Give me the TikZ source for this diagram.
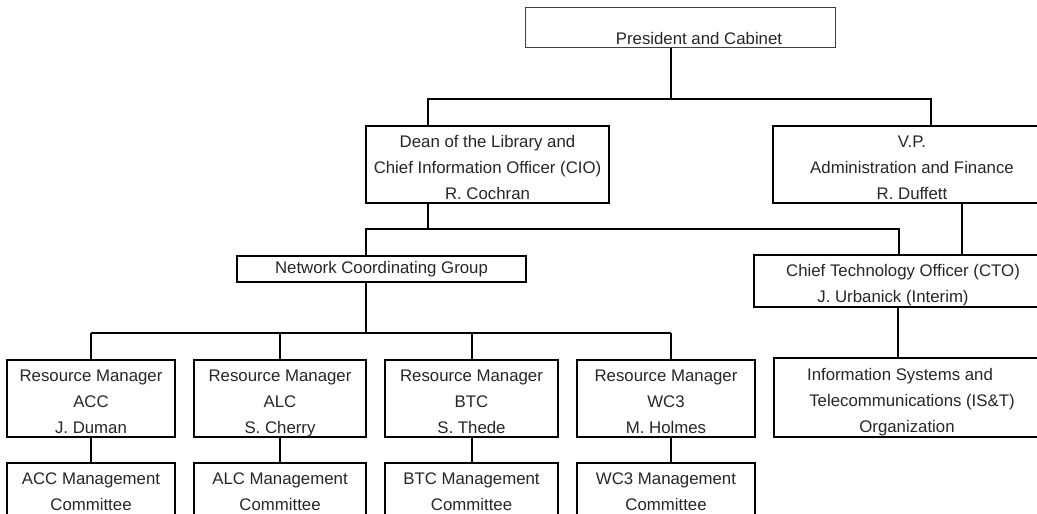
\documentclass[tikz,border=0pt]{standalone}
\usepackage{fontspec}
\setmainfont{Liberation Sans}
\newcommand{\toprow}{\rule{0pt}{21pt}}
\tikzset{
	orgbox/.style={draw, rectangle, line width=1.3pt, inner sep=0pt, align=center, text=black!85, font=\fontsize{16.8}{26}\selectfont},
	rows/.style={execute at end node={\rule[-4pt]{0pt}{4pt}}},
	orgtext/.style={inner sep=0pt, text=black!85, font=\fontsize{16.8}{26}\selectfont},
	link/.style={line width=1.3pt}
}

\begin{document}
\begin{tikzpicture}[x=1pt,y=-1pt]
			\useasboundingbox (0,0) rectangle (1037,514);
			\clip (0,0) rectangle (1037,514);
			\node[orgbox, line width=1pt, draw=black!75, minimum width=310, minimum height=40] (pres) at (680,27) {};
			\node[orgtext] (prestext) at (699,38) {President and Cabinet};
			\node[orgbox, rows, minimum width=243, minimum height=77] (dean) at (487.5,164.5) {\toprow Dean of the Library and\\Chief Information Officer (CIO)\\R. Cochran};
			\node[orgbox, rows, minimum width=278, minimum height=77] (vp) at (912,164.5) {\toprow V.P.\\Administration and Finance\\R. Duffett};
			\node[orgbox, minimum width=289, minimum height=26] (ncg) at (381.5,269) {Network Coordinating Group};
			\node[orgbox, rows, minimum width=298, minimum height=52] (cto) at (903,281) {\toprow Chief Technology Officer (CTO)\\J. Urbanick (Interim)\hspace*{20pt}};
			\node[orgbox, rows, minimum width=276, minimum height=79] (ist) at (912,397.5) {\toprow Information Systems and\hspace*{24pt}\\Telecommunications (IS\&T)\\Organization\hspace*{10pt}};
			\coordinate (t0) at (671,99);
			\coordinate (t1) at (428,99);
			\coordinate (t2) at (931,99);
			\coordinate (d1) at (428,229);
			\coordinate (d2) at (366,229);
			\coordinate (d3) at (899,229);
			\coordinate (v1) at (962,229);
			\coordinate (c1) at (898,330);
			\coordinate (n1) at (366,333);
			\draw[link] (t0 |- pres.south) -- (t0);
			\draw[link] (t1 |- dean.north) -- (t1) -- (t2) -- (t2 |- vp.north);
			\draw[link] (d1 |- dean.south) -- (d1);
			\draw[link] (d2 |- ncg.north) -- (d2) -- (d3) -- (d3 |- cto.north);
			\draw[link] (v1 |- vp.south) -- (v1 |- cto.north);
			\draw[link] (c1 |- cto.south) -- (c1 |- ist.north);
			\draw[link] (n1 |- ncg.south) -- (n1);
			\foreach \unit/\xl/\xr/\xc/\who in {ACC/7/175/91/J. Duman, ALC/194/366/280/S. Cherry, BTC/385/558/472/S. Thede, WC3/577/755/671/M. Holmes}
			{
				\pgfmathsetmacro{\boxwd}{\xr-\xl}
				\pgfmathsetmacro{\boxmid}{(\xr+\xl)/2}
				\node[orgbox, rows, minimum width=\boxwd, minimum height=77] (rm\unit) at (\boxmid,398.5) {\toprow Resource Manager\\\unit\\\who};
				\node[orgbox, rows, minimum width=\boxwd, minimum height=52] (mc\unit) at (\boxmid,489) {\toprow\unit{} Management\\Committee};
				\coordinate (b\unit) at (\xc,333);
				\draw[link] (b\unit) -- (b\unit |- rm\unit.north);
				\draw[link] (b\unit |- rm\unit.south) -- (b\unit |- mc\unit.north);
			}
			\draw[link] (bACC) -- (bWC3);
		\end{tikzpicture}
\end{document}
